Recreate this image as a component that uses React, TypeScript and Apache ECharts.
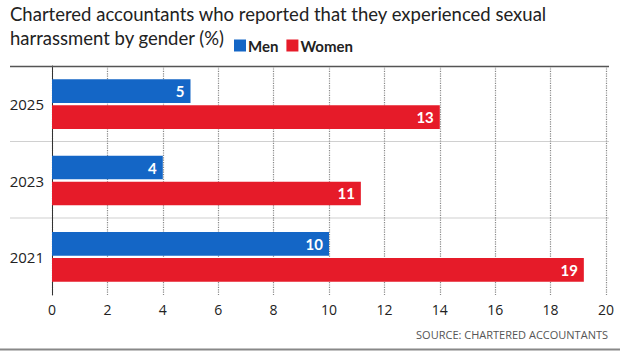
import React, { useEffect, useRef } from "react";
import * as echarts from "echarts";

const years = ["2021", "2023", "2025"];
// bar lengths as drawn in the picture, and the printed values
const menValues = [10, 4, 5];
const womenValues = [19.2, 11.15, 14];
const menLabels = ["10", "4", "5"];
const womenLabels = ["19", "11", "13"];
const xTicks = { min: 0, max: 20, interval: 2 };
const titleLines = [
  "Chartered accountants who reported that they experienced sexual",
  "harrassment by gender (%)",
];
const sourceText = "SOURCE: CHARTERED ACCOUNTANTS";

const BLUE = "#1466c6";
const RED = "#e61b29";
const FONT = "'Open Sans', 'Noto Sans', sans-serif";
const TFONT = "Lato, 'Open Sans', sans-serif";

export default function App() {
  const ref = useRef<HTMLDivElement>(null);
  useEffect(() => {
    if (!ref.current) return;
    const chart = echarts.init(ref.current, null, { renderer: "svg" });
    const labelStyle = (texts: string[]) => ({
      show: true,
      position: "insideRight" as const,
      color: "#fff",
      fontWeight: "bold" as const,
      fontSize: 15,
      fontFamily: TFONT,
      distance: 6,
      formatter: (p: any) => texts[p.dataIndex],
    });
    chart.setOption({
      animation: false,
      backgroundColor: "#fff",
      textStyle: { fontFamily: FONT },
      grid: { left: 52, right: 14, top: 66, bottom: 56 },
      legend: {
        left: 229,
        top: 33,
        itemWidth: 12,
        itemHeight: 12,
        itemGap: 8,
        icon: "rect",
        data: ["Men", "Women"],
        textStyle: { fontSize: 15, fontWeight: "bold", color: "#222", fontFamily: TFONT, padding: [0, 0, 0, -3] },
      },
      xAxis: {
        type: "value",
        min: xTicks.min,
        max: xTicks.max,
        interval: xTicks.interval,
        axisLine: { show: false },
        axisTick: { show: false },
        axisLabel: { fontSize: 14, color: "#222", margin: 7, fontFamily: FONT },
        splitLine: { show: true, lineStyle: { type: "dotted", color: "#888", width: 1.2 } },
      },
      yAxis: {
        type: "category",
        data: years,
        axisLine: { show: true, lineStyle: { color: "#333", width: 1 } },
        axisTick: { show: false },
        axisLabel: { fontSize: 15, color: "#222", margin: 8, fontFamily: FONT },
        splitLine: { show: false },
      },
      graphic: [
        { type: "line", shape: { x1: 10, y1: 66.5, x2: 609, y2: 66.5 }, style: { stroke: "#555", lineWidth: 1.5 }, z: 10 },
        { type: "line", shape: { x1: 10, y1: 141.5, x2: 609, y2: 141.5 }, style: { stroke: "#d0d0d0", lineWidth: 1.2 }, z: 0 },
        { type: "line", shape: { x1: 10, y1: 218, x2: 609, y2: 218 }, style: { stroke: "#d0d0d0", lineWidth: 1.2 }, z: 0 },
        { type: "line", shape: { x1: 0, y1: 349.5, x2: 620, y2: 349.5 }, style: { stroke: "#888", lineWidth: 2 } },
        {
          type: "text", left: 10, top: 4,
          style: { text: titleLines[0], fontSize: 18.5, fill: "#222", fontFamily: TFONT },
        },
        {
          type: "text", left: 10, top: 28,
          style: { text: titleLines[1], fontSize: 18.5, fill: "#222", fontFamily: TFONT },
        },
        {
          type: "text", right: 12, top: 329,
          style: { text: sourceText, fontSize: 11, fill: "#555", fontFamily: FONT },
        },
      ],
      series: [
        {
          name: "Men",
          type: "bar",
          data: menValues,
          itemStyle: { color: BLUE },
          barCategoryGap: "35%",
          barGap: "10%",
          label: labelStyle(menLabels),
        },
        {
          name: "Women",
          type: "bar",
          data: womenValues,
          itemStyle: { color: RED },
          barCategoryGap: "35%",
          barGap: "10%",
          label: labelStyle(womenLabels),
        },
      ],
    });
    return () => chart.dispose();
  }, []);
  return <div ref={ref} style={{ width: 620, height: 351, position: "absolute", left: 0, top: 0 }} />;
}
